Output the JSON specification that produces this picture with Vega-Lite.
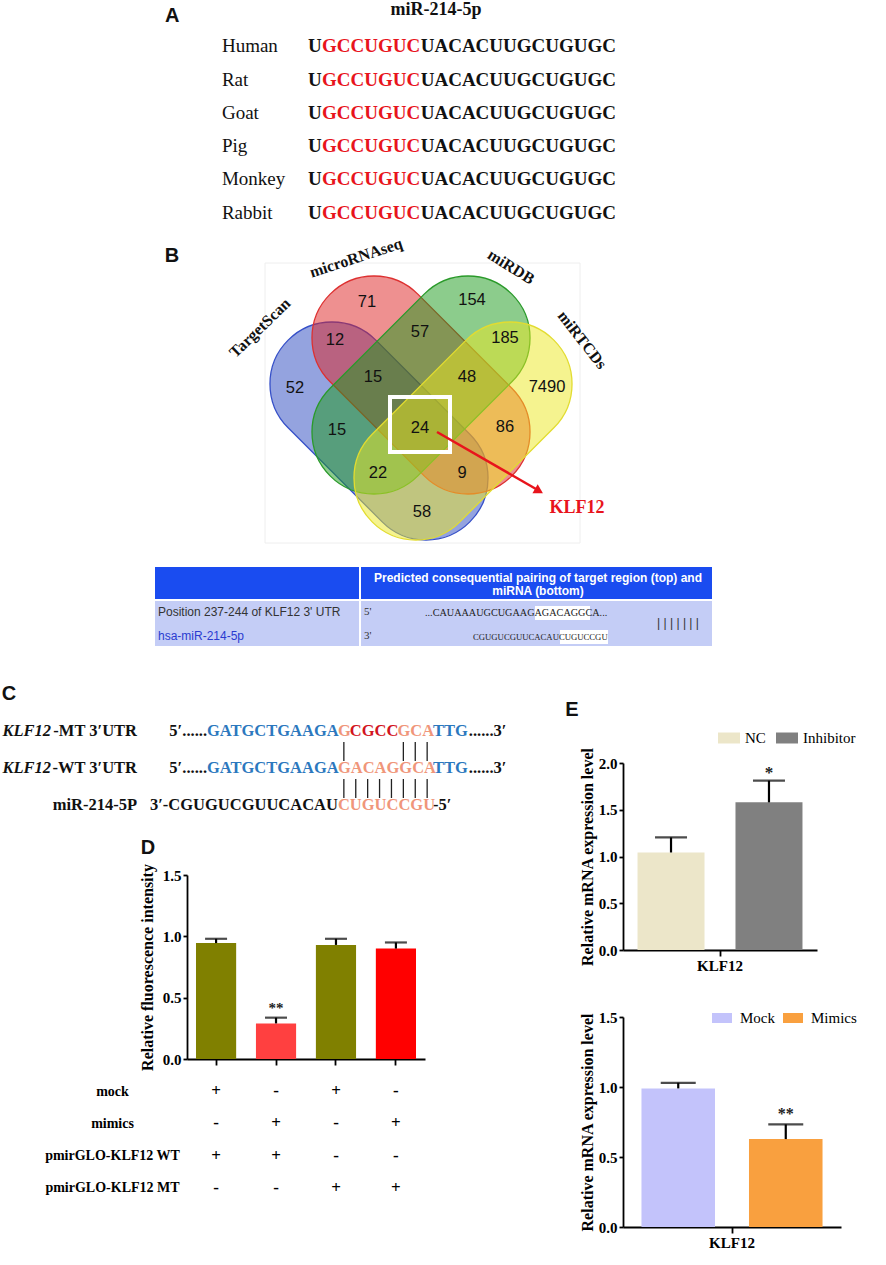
{
  "$schema": "https://vega.github.io/schema/vega-lite/v6.json",
  "padding": 0,
  "background": "white",
  "bounds": "flush",
  "spacing": 0,
  "resolve": {"scale": {"color": "independent", "stroke": "independent", "xOffset": "independent"}, "legend": {"color": "independent"}},
  "config": {
    "view": {"stroke": null},
    "axis": {"domainColor": "#000", "tickColor": "#000", "labelColor": "#000", "titleColor": "#000", "labelFont": "Liberation Serif", "labelFontWeight": "bold", "labelFontSize": 15, "titleFont": "Liberation Serif", "titleFontWeight": "bold", "titleFontSize": 16, "domainWidth": 1.8, "tickWidth": 1.8, "grid": false},
    "legend": {"labelFont": "Liberation Serif", "labelFontSize": 15, "labelColor": "#000"}
  },
  "vconcat": [
    {
      "width": 886, "height": 233,
      "data": {"values": [
        {"species": "Human", "start": 1, "seq": "U", "part": "flank"},
        {"species": "Human", "start": 2, "seq": "GCCUGUC", "part": "seed"},
        {"species": "Human", "start": 9, "seq": "UACACUUGCUGUGC", "part": "flank"},
        {"species": "Rat", "start": 1, "seq": "U", "part": "flank"},
        {"species": "Rat", "start": 2, "seq": "GCCUGUC", "part": "seed"},
        {"species": "Rat", "start": 9, "seq": "UACACUUGCUGUGC", "part": "flank"},
        {"species": "Goat", "start": 1, "seq": "U", "part": "flank"},
        {"species": "Goat", "start": 2, "seq": "GCCUGUC", "part": "seed"},
        {"species": "Goat", "start": 9, "seq": "UACACUUGCUGUGC", "part": "flank"},
        {"species": "Pig", "start": 1, "seq": "U", "part": "flank"},
        {"species": "Pig", "start": 2, "seq": "GCCUGUC", "part": "seed"},
        {"species": "Pig", "start": 9, "seq": "UACACUUGCUGUGC", "part": "flank"},
        {"species": "Monkey", "start": 1, "seq": "U", "part": "flank"},
        {"species": "Monkey", "start": 2, "seq": "GCCUGUC", "part": "seed"},
        {"species": "Monkey", "start": 9, "seq": "UACACUUGCUGUGC", "part": "flank"},
        {"species": "Rabbit", "start": 1, "seq": "U", "part": "flank"},
        {"species": "Rabbit", "start": 2, "seq": "GCCUGUC", "part": "seed"},
        {"species": "Rabbit", "start": 9, "seq": "UACACUUGCUGUGC", "part": "flank"}
      ]},
      "encoding": {
        "x": {"field": "start", "type": "quantitative", "scale": {"domain": [-20.84, 42.0], "nice": false, "zero": false}, "axis": null},
        "y": {"field": "species", "type": "nominal", "scale": {"type": "point", "domain": ["Human", "Rat", "Goat", "Pig", "Monkey", "Rabbit"], "padding": 1.05, "align": 0.696}, "axis": null}
      },
      "layer": [
        {
          "mark": {"type": "text", "align": "left", "baseline": "middle", "font": "Liberation Serif", "fontWeight": "bold", "fontSize": 19},
          "encoding": {
            "text": {"field": "seq"},
            "color": {"field": "part", "type": "nominal", "scale": {"domain": ["seed", "flank"], "range": ["#e8141c", "#111111"]}, "legend": null}
          }
        },
        {
          "transform": [{"filter": "datum.start === 1"}],
          "mark": {"type": "text", "align": "left", "baseline": "middle", "font": "Liberation Serif", "fontSize": 19, "color": "#111111"},
          "encoding": {"x": {"datum": -5.1, "type": "quantitative"}, "text": {"field": "species"}}
        },
        {
          "transform": [{"filter": "datum.start === 1 && datum.species === 'Human'"}],
          "mark": {"type": "text", "align": "center", "baseline": "middle", "dy": -36, "font": "Liberation Serif", "fontWeight": "bold", "fontSize": 18, "color": "#111111"},
          "encoding": {"x": {"datum": 10.08, "type": "quantitative"}, "text": {"value": "miR-214-5p"}}
        },
        {
          "transform": [{"filter": "datum.start === 1 && datum.species === 'Human'"}],
          "mark": {"type": "text", "align": "left", "baseline": "middle", "dy": -30, "font": "Liberation Sans", "fontWeight": "bold", "fontSize": 20, "color": "#111111"},
          "encoding": {"x": {"datum": -9.14, "type": "quantitative"}, "text": {"value": "A"}}
        }
      ]
    },
    {
      "width": 886, "height": 530,
      "resolve": {"scale": {"color": "independent", "stroke": "independent"}},
      "encoding": {
        "x": {"field": "x", "type": "quantitative", "scale": {"domain": [0, 886], "nice": false, "zero": false}, "axis": null},
        "y": {"field": "y", "type": "quantitative", "scale": {"domain": [233, 763], "nice": false, "zero": false, "reverse": true}, "axis": null}
      },
      "layer": [
        {
          "data": {"values": [{"x": 265, "y": 263, "x2": 580, "y2": 543}]},
          "mark": {"type": "rect", "fillOpacity": 0, "stroke": "#eeeeee", "strokeWidth": 1},
          "encoding": {"x2": {"field": "x2"}, "y2": {"field": "y2"}}
        },
        {
          "data": {"values": [{"set": "TargetScan", "x": 379, "y": 431}, {"set": "microRNAseq", "x": 421, "y": 385}]},
          "mark": {"type": "point", "shape": "M-0.5175,-0.4825L0.5175,-0.4825C0.784,-0.4825,1,-0.2665,1,0C1,0.2665,0.784,0.4825,0.5175,0.4825L-0.5175,0.4825C-0.784,0.4825,-1,0.2665,-1,0C-1,-0.2665,-0.784,-0.4825,-0.5175,-0.4825Z", "size": 66049, "angle": 45, "filled": true, "fillOpacity": 0.5, "strokeWidth": 1.3, "strokeOpacity": 1, "opacity": 1},
          "encoding": {
            "color": {"field": "set", "type": "nominal", "scale": {"domain": ["TargetScan", "microRNAseq", "miRDB", "miRTCDs"], "range": ["#2a48c0", "#dd2222", "#1a9a1a", "#ece820"]}, "legend": null},
            "stroke": {"field": "set", "type": "nominal", "scale": {"domain": ["TargetScan", "microRNAseq", "miRDB", "miRTCDs"], "range": ["#3650c8", "#dd3030", "#2a9a2a", "#e2dc30"]}, "legend": null}
          }
        },
        {
          "data": {"values": [{"set": "miRDB", "x": 421, "y": 385}, {"set": "miRTCDs", "x": 463, "y": 431}]},
          "mark": {"type": "point", "shape": "M-0.5175,-0.4825L0.5175,-0.4825C0.784,-0.4825,1,-0.2665,1,0C1,0.2665,0.784,0.4825,0.5175,0.4825L-0.5175,0.4825C-0.784,0.4825,-1,0.2665,-1,0C-1,-0.2665,-0.784,-0.4825,-0.5175,-0.4825Z", "size": 66049, "angle": -45, "filled": true, "fillOpacity": 0.5, "strokeWidth": 1.3, "strokeOpacity": 1, "opacity": 1},
          "encoding": {
            "color": {"field": "set", "type": "nominal", "scale": {"domain": ["TargetScan", "microRNAseq", "miRDB", "miRTCDs"], "range": ["#2a48c0", "#dd2222", "#1a9a1a", "#ece820"]}, "legend": null},
            "stroke": {"field": "set", "type": "nominal", "scale": {"domain": ["TargetScan", "microRNAseq", "miRDB", "miRTCDs"], "range": ["#3650c8", "#dd3030", "#2a9a2a", "#e2dc30"]}, "legend": null}
          }
        },
        {
          "data": {"values": [
            {"n": "71", "x": 367, "y": 302}, {"n": "154", "x": 472, "y": 300},
            {"n": "12", "x": 335, "y": 340}, {"n": "57", "x": 420, "y": 332}, {"n": "185", "x": 505, "y": 338},
            {"n": "15", "x": 373, "y": 377}, {"n": "48", "x": 467, "y": 377},
            {"n": "52", "x": 295, "y": 388}, {"n": "7490", "x": 547, "y": 387},
            {"n": "15", "x": 337, "y": 430}, {"n": "24", "x": 420, "y": 428}, {"n": "86", "x": 505, "y": 427},
            {"n": "22", "x": 378, "y": 473}, {"n": "9", "x": 462, "y": 473},
            {"n": "58", "x": 422, "y": 512}
          ]},
          "mark": {"type": "text", "font": "Liberation Sans", "fontSize": 16.5, "color": "#111111", "baseline": "middle"},
          "encoding": {"text": {"field": "n"}}
        },
        {
          "data": {"values": [{"x": 390, "y": 397, "x2": 450, "y2": 452}]},
          "mark": {"type": "rect", "fillOpacity": 0, "stroke": "white", "strokeWidth": 4},
          "encoding": {"x2": {"field": "x2"}, "y2": {"field": "y2"}}
        },
        {
          "data": {"values": [{"x": 437, "y": 432, "x2": 536, "y2": 489}]},
          "mark": {"type": "rule", "color": "#e8141c", "strokeWidth": 2.5},
          "encoding": {"x2": {"field": "x2"}, "y2": {"field": "y2"}}
        },
        {
          "data": {"values": [{"x": 539, "y": 491}]},
          "mark": {"type": "point", "shape": "triangle-right", "angle": 30, "size": 110, "filled": true, "color": "#e8141c", "opacity": 1}
        },
        {
          "data": {"values": [{"x": 577, "y": 508, "t": "KLF12"}]},
          "mark": {"type": "text", "font": "Liberation Serif", "fontWeight": "bold", "fontSize": 18, "color": "#e8141c", "baseline": "middle"},
          "encoding": {"text": {"field": "t"}}
        },
        {
          "data": {"values": [{"x": 260, "y": 328, "t": "TargetScan"}]},
          "mark": {"type": "text", "font": "Liberation Serif", "fontWeight": "bold", "fontSize": 16, "angle": -44, "baseline": "middle", "color": "#111111"},
          "encoding": {"text": {"field": "t"}}
        },
        {
          "data": {"values": [{"x": 356, "y": 258, "t": "microRNAseq"}]},
          "mark": {"type": "text", "font": "Liberation Serif", "fontWeight": "bold", "fontSize": 16, "angle": -18, "baseline": "middle", "color": "#111111"},
          "encoding": {"text": {"field": "t"}}
        },
        {
          "data": {"values": [{"x": 511, "y": 267, "t": "miRDB"}]},
          "mark": {"type": "text", "font": "Liberation Serif", "fontWeight": "bold", "fontSize": 16, "angle": 32, "baseline": "middle", "color": "#111111"},
          "encoding": {"text": {"field": "t"}}
        },
        {
          "data": {"values": [{"x": 582, "y": 340, "t": "miRTCDs"}]},
          "mark": {"type": "text", "font": "Liberation Serif", "fontWeight": "bold", "fontSize": 16, "angle": 52, "baseline": "middle", "color": "#111111"},
          "encoding": {"text": {"field": "t"}}
        },
        {
          "data": {"values": [{"x": 172, "y": 256, "t": "B"}, {"x": 9, "y": 694, "t": "C"}, {"x": 572, "y": 710, "t": "E"}]},
          "mark": {"type": "text", "font": "Liberation Sans", "fontWeight": "bold", "fontSize": 20, "baseline": "middle", "align": "center", "color": "#111111"},
          "encoding": {"text": {"field": "t"}}
        },
        {
          "data": {"values": [
            {"kind": "head", "x": 155, "x2": 359, "y": 567, "y2": 599},
            {"kind": "head", "x": 361, "x2": 712, "y": 567, "y2": 599},
            {"kind": "body", "x": 155, "x2": 359, "y": 601, "y2": 646},
            {"kind": "body", "x": 361, "x2": 712, "y": 601, "y2": 646}
          ]},
          "mark": {"type": "rect"},
          "encoding": {
            "x2": {"field": "x2"}, "y2": {"field": "y2"},
            "color": {"field": "kind", "type": "nominal", "scale": {"domain": ["head", "body"], "range": ["#1a4cf0", "#c4cdf6"]}, "legend": null}
          }
        },
        {
          "data": {"values": [{"x": 535, "x2": 590, "y": 606, "y2": 620}, {"x": 560, "x2": 608, "y": 630, "y2": 644}]},
          "mark": {"type": "rect", "color": "white"},
          "encoding": {"x2": {"field": "x2"}, "y2": {"field": "y2"}}
        },
        {
          "data": {"values": [
            {"x": 538, "y": 578, "t": "Predicted consequential pairing of target region (top) and"},
            {"x": 538, "y": 591, "t": "miRNA (bottom)"}
          ]},
          "mark": {"type": "text", "font": "Liberation Sans", "fontWeight": "bold", "fontSize": 12, "color": "white", "baseline": "middle", "align": "center"},
          "encoding": {"text": {"field": "t"}}
        },
        {
          "data": {"values": [
            {"x": 158, "y": 612, "t": "Position 237-244 of KLF12 3' UTR", "role": "label"},
            {"x": 158, "y": 636, "t": "hsa-miR-214-5p", "role": "mirna"}
          ]},
          "mark": {"type": "text", "font": "Liberation Sans", "fontSize": 12, "baseline": "middle", "align": "left"},
          "encoding": {
            "text": {"field": "t"},
            "color": {"field": "role", "type": "nominal", "scale": {"domain": ["label", "mirna"], "range": ["#333333", "#2a3bd0"]}, "legend": null}
          }
        },
        {
          "data": {"values": [{"x": 364, "y": 612, "t": "5'"}, {"x": 364, "y": 636, "t": "3'"}]},
          "mark": {"type": "text", "font": "Liberation Serif", "fontSize": 11, "baseline": "middle", "align": "left", "color": "#333333"},
          "encoding": {"text": {"field": "t"}}
        },
        {
          "data": {"values": [{"x": 425, "y": 613, "t": "...CAUAAAUGCUGAAGAGACAGGCA..."}]},
          "mark": {"type": "text", "font": "Liberation Serif", "fontSize": 10.2, "baseline": "middle", "align": "left", "color": "#222222"},
          "encoding": {"text": {"field": "t"}}
        },
        {
          "data": {"values": [{"x": 473, "y": 637, "t": "CGUGUCGUUCACAUCUGUCCGU"}]},
          "mark": {"type": "text", "font": "Liberation Serif", "fontSize": 8.7, "baseline": "middle", "align": "left", "color": "#222222"},
          "encoding": {"text": {"field": "t"}}
        },
        {
          "data": {"values": [{"x": 678, "y": 623, "t": "| | | | | | |"}]},
          "mark": {"type": "text", "font": "Liberation Sans", "fontSize": 12, "baseline": "middle", "align": "center", "color": "#333333"},
          "encoding": {"text": {"field": "t"}}
        }
      ]
    },
    {
      "bounds": "flush",
      "spacing": 0,
      "resolve": {"scale": {"color": "independent", "stroke": "independent", "xOffset": "independent"}, "legend": {"color": "independent"}},
      "hconcat": [
        {"width": 187, "height": 10, "data": {"values": []}, "mark": "point"},
        {
          "bounds": "flush",
          "spacing": 0,
          "resolve": {"scale": {"color": "independent", "stroke": "independent"}, "legend": {"color": "independent"}},
          "vconcat": [
            {
              "width": 238, "height": 112,
              "data": {"values": [
                {"kind": "seg", "line": 1, "pos": 1, "text": "5′...... ", "role": "end5"},
                {"kind": "seg", "line": 1, "pos": 1, "text": "GATGCTGAAGA", "role": "utr"},
                {"kind": "seg", "line": 1, "pos": 12, "text": "G", "role": "site"},
                {"kind": "seg", "line": 1, "pos": 13, "text": "CGCC", "role": "mutant"},
                {"kind": "seg", "line": 1, "pos": 17, "text": "GCA", "role": "site"},
                {"kind": "seg", "line": 1, "pos": 20, "text": "TTG", "role": "utr"},
                {"kind": "seg", "line": 1, "pos": 23, "text": "......3′", "role": "end3"},
                {"kind": "seg", "line": 2, "pos": 1, "text": "5′...... ", "role": "end5"},
                {"kind": "seg", "line": 2, "pos": 1, "text": "GATGCTGAAGA", "role": "utr"},
                {"kind": "seg", "line": 2, "pos": 12, "text": "GACAGGCA", "role": "site"},
                {"kind": "seg", "line": 2, "pos": 20, "text": "TTG", "role": "utr"},
                {"kind": "seg", "line": 2, "pos": 23, "text": " ......3′", "role": "end3"},
                {"kind": "seg", "line": 3, "pos": 12, "text": "3′-CGUGUCGUUCACAU", "role": "end5"},
                {"kind": "seg", "line": 3, "pos": 12, "text": "CUGUCCGU", "role": "site"},
                {"kind": "seg", "line": 3, "pos": 20, "text": "-5′", "role": "end3"},
                {"kind": "label", "line": 1, "pos": 1, "gene": "KLF12", "text": "-MT 3′UTR"},
                {"kind": "label", "line": 2, "pos": 1, "gene": "KLF12", "text": "-WT 3′UTR"},
                {"kind": "label", "line": 3, "pos": 1, "gene": "", "text": "miR-214-5P"},
                {"kind": "pair", "line": 1, "pos": 12}, {"kind": "pair", "line": 1, "pos": 17}, {"kind": "pair", "line": 1, "pos": 18}, {"kind": "pair", "line": 1, "pos": 19},
                {"kind": "pair", "line": 2, "pos": 12}, {"kind": "pair", "line": 2, "pos": 13}, {"kind": "pair", "line": 2, "pos": 14}, {"kind": "pair", "line": 2, "pos": 15},
                {"kind": "pair", "line": 2, "pos": 16}, {"kind": "pair", "line": 2, "pos": 17}, {"kind": "pair", "line": 2, "pos": 18}, {"kind": "pair", "line": 2, "pos": 19},
                {"kind": "panel", "line": 4.16, "pos": -3.96, "text": "D"}
              ]},
              "encoding": {
                "x": {"field": "pos", "type": "quantitative", "scale": {"domain": [-0.681, 19.319], "nice": false, "zero": false}, "axis": null},
                "y": {"field": "line", "type": "quantitative", "scale": {"domain": [1.865, 4.892], "nice": false, "zero": false, "reverse": true}, "axis": null}
              },
              "layer": [
                {
                  "transform": [{"filter": "datum.kind === 'label'"}],
                  "mark": {"type": "text", "align": "right", "baseline": "middle", "dx": -70, "font": "Liberation Serif", "fontWeight": "bold", "fontSize": 16.5, "color": "#111111"},
                  "encoding": {"text": {"field": "text"}}
                },
                {
                  "transform": [{"filter": "datum.kind === 'label' && datum.gene !== ''"}],
                  "mark": {"type": "text", "align": "right", "baseline": "middle", "dx": -156, "font": "Liberation Serif", "fontWeight": "bold", "fontStyle": "italic", "fontSize": 16.5, "color": "#111111"},
                  "encoding": {"text": {"field": "gene"}}
                },
                {
                  "transform": [{"filter": "datum.kind === 'seg' && datum.role === 'end5'"}],
                  "mark": {"type": "text", "align": "right", "baseline": "middle", "font": "Liberation Serif", "fontWeight": "bold", "fontSize": 16.5, "color": "#111111"},
                  "encoding": {"text": {"field": "text"}}
                },
                {
                  "transform": [{"filter": "datum.kind === 'seg' && datum.role === 'end3'"}],
                  "mark": {"type": "text", "align": "left", "baseline": "middle", "font": "Liberation Serif", "fontWeight": "bold", "fontSize": 16.5, "color": "#111111"},
                  "encoding": {"text": {"field": "text"}}
                },
                {
                  "transform": [{"filter": "datum.kind === 'seg' && (datum.role === 'utr' || datum.role === 'site' || datum.role === 'mutant')"}],
                  "mark": {"type": "text", "align": "left", "baseline": "middle", "font": "Liberation Serif", "fontWeight": "bold", "fontSize": 16.5},
                  "encoding": {
                    "text": {"field": "text"},
                    "color": {"field": "role", "type": "nominal", "scale": {"domain": ["utr", "site", "mutant"], "range": ["#2c78be", "#f0967a", "#d2141e"]}, "legend": null}
                  }
                },
                {
                  "transform": [{"filter": "datum.kind === 'pair'"}],
                  "mark": {"type": "rule", "color": "#222222", "strokeWidth": 1.3, "xOffset": 5.95, "yOffset": 11, "y2Offset": 30},
                  "encoding": {"y2": {"field": "line"}}
                },
                {
                  "transform": [{"filter": "datum.kind === 'panel'"}],
                  "mark": {"type": "text", "align": "center", "baseline": "middle", "font": "Liberation Sans", "fontWeight": "bold", "fontSize": 20, "color": "#111111"},
                  "encoding": {"text": {"field": "text"}}
                }
              ]
            },
            {
              "width": 238, "height": 184,
              "data": {"values": [
                {"group": "mock + WT", "mean": 0.945, "upper": 0.98, "sig": ""},
                {"group": "mimics + WT", "mean": 0.29, "upper": 0.337, "sig": "**"},
                {"group": "mock + MT", "mean": 0.93, "upper": 0.98, "sig": ""},
                {"group": "mimics + MT", "mean": 0.90, "upper": 0.95, "sig": ""}
              ]},
              "encoding": {
                "x": {"field": "group", "type": "nominal", "scale": {"type": "band", "domain": ["mock + WT", "mimics + WT", "mock + MT", "mimics + MT"], "paddingInner": 0.33, "paddingOuter": 0.15}, "axis": {"title": null, "labels": false, "tickSize": 6}}
              },
              "layer": [
                {
                  "mark": {"type": "bar"},
                  "encoding": {
                    "y": {"field": "mean", "type": "quantitative", "title": "Relative fluorescence intensity", "scale": {"domain": [0, 1.5], "nice": false}, "axis": {"values": [0, 0.5, 1, 1.5], "format": ".1f", "tickSize": 4, "labelPadding": 2, "titlePadding": 7}},
                    "color": {"field": "group", "type": "nominal", "scale": {"domain": ["mock + WT", "mimics + WT", "mock + MT", "mimics + MT"], "range": ["#808000", "#ff4040", "#808000", "#ff0000"]}, "legend": null}
                  }
                },
                {
                  "mark": {"type": "rule", "strokeWidth": 2.2, "color": "#000"},
                  "encoding": {"y": {"field": "mean", "type": "quantitative", "title": "Relative fluorescence intensity"}, "y2": {"field": "upper"}}
                },
                {
                  "mark": {"type": "tick", "thickness": 2.2, "size": 22, "color": "#000"},
                  "encoding": {"y": {"field": "upper", "type": "quantitative", "title": "Relative fluorescence intensity"}}
                },
                {
                  "transform": [{"filter": "datum.sig !== ''"}],
                  "mark": {"type": "text", "baseline": "bottom", "dy": -2, "font": "Liberation Serif", "fontWeight": "bold", "fontSize": 15, "color": "#222222"},
                  "encoding": {"y": {"field": "upper", "type": "quantitative", "title": "Relative fluorescence intensity"}, "text": {"field": "sig"}}
                }
              ]
            },
            {
              "width": 238, "height": 161,
              "data": {"values": [
                {"group": "mock + WT", "factor": "mock", "sign": "+"},
                {"group": "mimics + WT", "factor": "mock", "sign": "-"},
                {"group": "mock + MT", "factor": "mock", "sign": "+"},
                {"group": "mimics + MT", "factor": "mock", "sign": "-"},
                {"group": "mock + WT", "factor": "mimics", "sign": "-"},
                {"group": "mimics + WT", "factor": "mimics", "sign": "+"},
                {"group": "mock + MT", "factor": "mimics", "sign": "-"},
                {"group": "mimics + MT", "factor": "mimics", "sign": "+"},
                {"group": "mock + WT", "factor": "pmirGLO-KLF12 WT", "sign": "+"},
                {"group": "mimics + WT", "factor": "pmirGLO-KLF12 WT", "sign": "+"},
                {"group": "mock + MT", "factor": "pmirGLO-KLF12 WT", "sign": "-"},
                {"group": "mimics + MT", "factor": "pmirGLO-KLF12 WT", "sign": "-"},
                {"group": "mock + WT", "factor": "pmirGLO-KLF12 MT", "sign": "-"},
                {"group": "mimics + WT", "factor": "pmirGLO-KLF12 MT", "sign": "-"},
                {"group": "mock + MT", "factor": "pmirGLO-KLF12 MT", "sign": "+"},
                {"group": "mimics + MT", "factor": "pmirGLO-KLF12 MT", "sign": "+"}
              ]},
              "mark": {"type": "text", "font": "Liberation Serif", "fontWeight": "bold", "fontSize": 17, "baseline": "middle"},
              "encoding": {
                "x": {"field": "group", "type": "nominal", "bandPosition": 0.5, "scale": {"type": "band", "domain": ["mock + WT", "mimics + WT", "mock + MT", "mimics + MT"], "paddingInner": 0.33, "paddingOuter": 0.15}, "axis": null},
                "y": {"field": "factor", "type": "nominal", "scale": {"type": "point", "domain": ["mock", "mimics", "pmirGLO-KLF12 WT", "pmirGLO-KLF12 MT"], "padding": 1.1}, "axis": {"title": null, "domain": false, "ticks": false, "tickSize": 0, "labelPadding": 75, "labelAlign": "center", "labelBaseline": "middle", "labelFontSize": 14}},
                "text": {"field": "sign"},
                "color": {"value": "#000000"}
              }
            }
          ]
        },
        {"width": 436, "height": 10, "data": {"values": []}, "mark": "point"},
        {
          "bounds": "flush",
          "spacing": 67,
          "resolve": {"scale": {"color": "independent", "stroke": "independent", "xOffset": "independent"}, "legend": {"color": "independent"}},
          "vconcat": [
            {
              "width": 194, "height": 187,
              "data": {"values": [
                {"gene": "KLF12", "group": "NC", "mean": 1.043, "upper": 1.204, "sig": ""},
                {"gene": "KLF12", "group": "Inhibitor", "mean": 1.579, "upper": 1.811, "sig": "*"}
              ]},
              "encoding": {
                "x": {"field": "gene", "type": "nominal", "scale": {"type": "band", "paddingInner": 0, "paddingOuter": 0.088}, "axis": {"title": null, "labelAngle": 0, "tickSize": 6, "labelPadding": 2}},
                "xOffset": {"field": "group", "type": "nominal", "scale": {"domain": ["NC", "Inhibitor"], "paddingInner": 0.316, "paddingOuter": 0}}
              },
              "layer": [
                {
                  "mark": {"type": "bar"},
                  "encoding": {
                    "y": {"field": "mean", "type": "quantitative", "title": "Relative mRNA expression level", "scale": {"domain": [0, 2], "nice": false}, "axis": {"values": [0, 0.5, 1, 1.5, 2], "format": ".1f", "tickSize": 4, "labelPadding": 2, "titlePadding": 3}},
                    "color": {"field": "group", "type": "nominal", "scale": {"domain": ["NC", "Inhibitor"], "range": ["#ece6c9", "#808080"]}, "legend": {"orient": "none", "legendX": 95, "legendY": -36, "direction": "horizontal", "title": null, "symbolType": "M-1,-0.5H1V0.5H-1Z", "symbolSize": 484, "symbolStrokeWidth": 0, "symbolOpacity": 1, "labelFontSize": 15, "labelFontWeight": "normal", "columnPadding": 10, "labelOffset": 5}}
                  }
                },
                {
                  "mark": {"type": "rule", "strokeWidth": 2.2, "color": "#000"},
                  "encoding": {"y": {"field": "mean", "type": "quantitative", "title": "Relative mRNA expression level"}, "y2": {"field": "upper"}}
                },
                {
                  "mark": {"type": "tick", "thickness": 2.2, "size": 32, "color": "#000"},
                  "encoding": {"y": {"field": "upper", "type": "quantitative", "title": "Relative mRNA expression level"}}
                },
                {
                  "transform": [{"filter": "datum.sig !== ''"}],
                  "mark": {"type": "text", "baseline": "bottom", "dy": 1, "font": "Liberation Serif", "fontWeight": "bold", "fontSize": 17, "color": "#222222"},
                  "encoding": {"y": {"field": "upper", "type": "quantitative", "title": "Relative mRNA expression level"}, "text": {"field": "sig"}}
                }
              ]
            },
            {
              "width": 218, "height": 210,
              "data": {"values": [
                {"gene": "KLF12", "group": "Mock", "mean": 0.99, "upper": 1.03, "sig": ""},
                {"gene": "KLF12", "group": "Mimics", "mean": 0.628, "upper": 0.733, "sig": "**"}
              ]},
              "encoding": {
                "x": {"field": "gene", "type": "nominal", "scale": {"type": "band", "paddingInner": 0, "paddingOuter": 0.102}, "axis": {"title": null, "labelAngle": 0, "tickSize": 6, "labelPadding": 2}},
                "xOffset": {"field": "group", "type": "nominal", "scale": {"domain": ["Mock", "Mimics"], "paddingInner": 0.316, "paddingOuter": 0}}
              },
              "layer": [
                {
                  "mark": {"type": "bar"},
                  "encoding": {
                    "y": {"field": "mean", "type": "quantitative", "title": "Relative mRNA expression level", "scale": {"domain": [0, 1.5], "nice": false}, "axis": {"values": [0, 0.5, 1, 1.5], "format": ".1f", "tickSize": 4, "labelPadding": 2, "titlePadding": 3}},
                    "color": {"field": "group", "type": "nominal", "scale": {"domain": ["Mock", "Mimics"], "range": ["#c3c3fb", "#f9a03f"]}, "legend": {"orient": "none", "legendX": 89, "legendY": -9, "direction": "horizontal", "title": null, "symbolType": "M-1,-0.5H1V0.5H-1Z", "symbolSize": 400, "symbolStrokeWidth": 0, "symbolOpacity": 1, "labelFontSize": 15, "labelFontWeight": "normal", "columnPadding": 8, "labelOffset": 8}}
                  }
                },
                {
                  "mark": {"type": "rule", "strokeWidth": 2.2, "color": "#000"},
                  "encoding": {"y": {"field": "mean", "type": "quantitative", "title": "Relative mRNA expression level"}, "y2": {"field": "upper"}}
                },
                {
                  "mark": {"type": "tick", "thickness": 2.2, "size": 35, "color": "#000"},
                  "encoding": {"y": {"field": "upper", "type": "quantitative", "title": "Relative mRNA expression level"}}
                },
                {
                  "transform": [{"filter": "datum.sig !== ''"}],
                  "mark": {"type": "text", "baseline": "bottom", "dy": -2, "font": "Liberation Serif", "fontWeight": "bold", "fontSize": 16, "color": "#222222"},
                  "encoding": {"y": {"field": "upper", "type": "quantitative", "title": "Relative mRNA expression level"}, "text": {"field": "sig"}}
                }
              ]
            }
          ]
        }
      ]
    }
  ]
}
